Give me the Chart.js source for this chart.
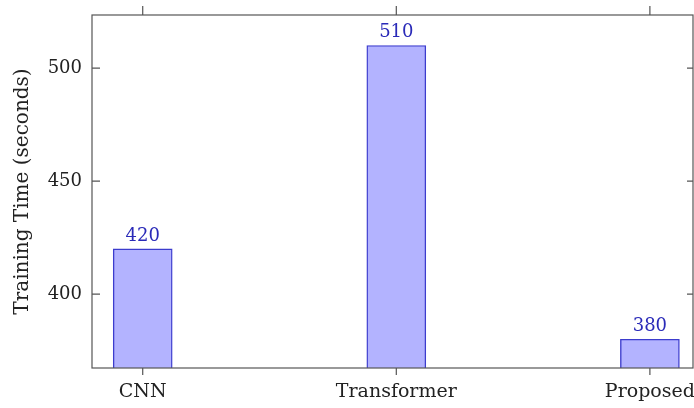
<!DOCTYPE html>
<html lang="en">
<head>
  <meta charset="UTF-8">
  <title>Training Time</title>
  <script src="https://cdn.jsdelivr.net/npm/chart.js"></script>
  <style>
    html, body {
      margin: 0;
      padding: 0;
      background: #fff;
    }
    #wrap {
      width: 694px;
      height: 408px;
    }
  </style>
</head>
<body>
  <div id="wrap"><canvas id="chart"></canvas></div>

  <script>
    const categories = ["CNN", "Transformer", "Proposed"];
    const trainingTime = [420, 510, 380];
    const yTicks = [400, 450, 500];

    const serif = "'DejaVu Serif', 'Liberation Serif', serif";

    // frame, ticks (y inward, x outward) and value labels
    const framePlugin = {
      id: "frame",
      afterDraw(chart) {
        const { ctx, chartArea: a, scales } = chart;
        ctx.save();
        ctx.strokeStyle = "#555";
        ctx.lineWidth = 1.2;
        ctx.strokeRect(a.left, a.top, a.right - a.left, a.bottom - a.top);
        ctx.beginPath();
        yTicks.forEach(v => {
          const y = scales.y.getPixelForValue(v);
          ctx.moveTo(a.left, y); ctx.lineTo(a.left + 8, y);
          ctx.moveTo(a.right, y); ctx.lineTo(a.right - 6, y);
        });
        categories.forEach((c, i) => {
          const x = scales.x.getPixelForValue(i);
          ctx.moveTo(x, a.bottom); ctx.lineTo(x, a.bottom + 7);
          ctx.moveTo(x, a.top); ctx.lineTo(x, a.top - 9);
        });
        ctx.stroke();

        ctx.fillStyle = "#2a2ab8";
        ctx.font = "18px " + serif;
        ctx.textAlign = "center";
        ctx.textBaseline = "bottom";
        chart.getDatasetMeta(0).data.forEach((bar, i) => {
          ctx.fillText(String(trainingTime[i]), bar.x, bar.y - 4);
        });
        ctx.restore();
      }
    };

    new Chart(document.getElementById("chart"), {
      type: "bar",
      data: {
        datasets: [{
          data: trainingTime.map((v, i) => ({ x: i, y: v })),
          backgroundColor: "rgb(179,179,255)",
          borderColor: "rgb(60,60,205)",
          borderWidth: 1.4,
          borderSkipped: false,
          barThickness: 59
        }]
      },
      options: {
        responsive: true,
        maintainAspectRatio: false,
        animation: false,
        layout: { padding: { top: 15, right: 1, left: 0, bottom: 0 } },
        plugins: {
          legend: { display: false },
          tooltip: { enabled: false }
        },
        scales: {
          x: {
            type: "linear",
            offset: false,
            min: -0.2,
            max: 2.17,
            grid: { display: false, drawTicks: false, offset: false },
            border: { display: false },
            afterBuildTicks: s => { s.ticks = categories.map((c, i) => ({ value: i })); },
            afterFit: s => { s.height = 40; s.paddingLeft = 0; s.paddingRight = 0; },
            ticks: {
              autoSkip: false,
              maxRotation: 0,
              padding: 13,
              color: "#222",
              font: { family: serif, size: 19 },
              callback: v => categories[v]
            }
          },
          y: {
            min: 367.3,
            max: 523.5,
            grid: { display: false, drawTicks: false },
            border: { display: false },
            afterBuildTicks: s => { s.ticks = yTicks.map(v => ({ value: v })); },
            afterFit: s => { s.width = 92; s.paddingTop = 0; s.paddingBottom = 0; },
            ticks: {
              padding: 10,
              color: "#222",
              font: { family: serif, size: 18 }
            },
            title: {
              display: true,
              text: "Training Time (seconds)",
              color: "#222",
              font: { family: serif, size: 20 },
              padding: { top: 11, bottom: 0 }
            }
          }
        }
      },
      plugins: [framePlugin]
    });
  </script>
</body>
</html>
